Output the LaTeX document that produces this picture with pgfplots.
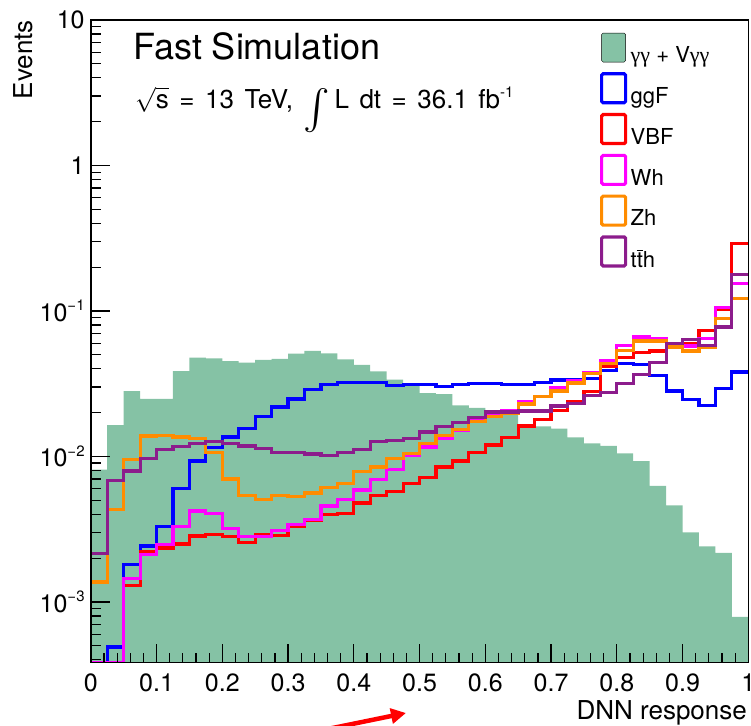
\documentclass[border=0pt]{standalone}
\usepackage{exscale}
\usepackage{fontspec}
\setmainfont{TeX Gyre Heros}
\newfontfamily\gfont{Liberation Serif}
\usepackage{graphicx}
\usepackage{pgfplots}
\usepackage{pgfplotstable}
\pgfplotsset{compat=1.18}
\usetikzlibrary{arrows.meta}
\definecolor{bkg}{RGB}{133,194,165}
\definecolor{mymagenta}{RGB}{255,0,255}
\definecolor{myorange}{RGB}{255,140,0}
\definecolor{mypurple}{RGB}{140,28,140}
\newcommand\sups[1]{\raisebox{10.4pt}{\fontsize{15}{15}\selectfont #1}}

\pgfplotstableread{
x y
0.000 1e-6
0.000 0.0081
0.025 0.0164
0.050 0.0281
0.075 0.0249
0.100 0.0249
0.125 0.0386
0.150 0.0478
0.175 0.0473
0.200 0.0452
0.225 0.0441
0.250 0.0461
0.275 0.0469
0.300 0.0509
0.325 0.0531
0.350 0.0510
0.375 0.0465
0.400 0.0426
0.425 0.0385
0.450 0.0337
0.475 0.0310
0.500 0.0272
0.525 0.0268
0.550 0.0224
0.575 0.0216
0.600 0.0195
0.625 0.0192
0.650 0.0161
0.675 0.0161
0.700 0.0155
0.725 0.0135
0.750 0.0123
0.775 0.0118
0.800 0.0105
0.825 0.0093
0.850 0.00627
0.875 0.00460
0.900 0.00301
0.925 0.00241
0.950 0.00217
0.975 0.00079
1.000 0.00079
1.000 1e-6
}\bkgdata

\pgfplotstableread{
x ggf vbf wh zh tth
0.000 3.82e-4 3.82e-4 3.82e-4 0.00137 0.00214
0.025 4.9e-4  3.82e-4 3.82e-4 0.00431 0.00679
0.050 0.00180 0.00130 0.00145 0.00952 0.00794
0.075 0.00242 0.00220 0.00213 0.0138  0.00962
0.100 0.00330 0.00235 0.00248 0.0140  0.01115
0.125 0.00600 0.00250 0.00330 0.0136  0.01174
0.150 0.00931 0.00284 0.00422 0.0133  0.01225
0.175 0.0115  0.00290 0.00407 0.0107  0.0126
0.200 0.0136  0.00283 0.00320 0.00700 0.0123
0.225 0.0156  0.00255 0.00281 0.00538 0.0118
0.250 0.0189  0.00291 0.00282 0.00505 0.0113
0.275 0.0219  0.00286 0.00308 0.00541 0.0107
0.300 0.0248  0.00330 0.00341 0.00527 0.0106
0.325 0.0290  0.00362 0.00370 0.00561 0.0104
0.350 0.0312  0.00398 0.00456 0.00608 0.0101
0.375 0.0322  0.00407 0.00508 0.00652 0.0106
0.400 0.0321  0.00479 0.00588 0.00791 0.0111
0.425 0.0321  0.00540 0.00690 0.00847 0.0126
0.450 0.0308  0.00575 0.00810 0.00972 0.0129
0.475 0.0314  0.00654 0.0101  0.0105  0.0132
0.500 0.0313  0.00719 0.0116  0.0123  0.0147
0.525 0.0303  0.00847 0.0133  0.0140  0.0160
0.550 0.0313  0.00929 0.0151  0.0153  0.0171
0.575 0.0318  0.0106  0.0177  0.0173  0.0185
0.600 0.0318  0.0120  0.0197  0.0189  0.0202
0.625 0.0312  0.0135  0.0206  0.0197  0.0202
0.650 0.0313  0.0162  0.0239  0.0229  0.0205
0.675 0.0324  0.0180  0.0259  0.0257  0.0205
0.700 0.0335  0.0206  0.0297  0.0282  0.0222
0.725 0.0337  0.0238  0.0332  0.0320  0.0232
0.750 0.0345  0.0278  0.0375  0.0370  0.0263
0.775 0.0390  0.0415  0.0458  0.0435  0.0276
0.800 0.0437  0.0477  0.0580  0.0537  0.0317
0.825 0.0427  0.0516  0.0662  0.0621  0.0367
0.850 0.0358  0.0531  0.0650  0.0621  0.0440
0.875 0.0282  0.0577  0.0587  0.0566  0.0597
0.900 0.0246  0.0597  0.0575  0.0531  0.0636
0.925 0.0223  0.0731  0.0643  0.0560  0.0581
0.950 0.0292  0.1020  0.105   0.0887  0.0776
0.975 0.0380  0.290   0.155   0.1216  0.178
1.000 0.0380  0.290   0.155   0.1216  0.178
}\sigdata

\begin{document}
\begin{tikzpicture}[x=1pt,y=1pt]
\begin{axis}[
  at={(90.8pt,62.3pt)}, anchor=south west,
  scale only axis, width=657.5pt, height=642.7pt,
  xmin=0, xmax=1,
  ymode=log, ymin=3.82e-4, ymax=10,
  axis on top,
  axis line style={line width=1.4pt},
  tick align=inside, xtick pos=left, ytick pos=left,
  xtick={0,0.1,0.2,0.3,0.4,0.5,0.6,0.7,0.8,0.9,1},
  xticklabels={0,0.1,0.2,0.3,0.4,0.5,0.6,0.7,0.8,0.9,1},
  minor x tick num=4,
  ytick={1e-3,1e-2,1e-1,1,10},
  yticklabels={10\sups{−3},10\sups{−2},10\sups{−1},1,10},
  minor ytick={4e-4,5e-4,6e-4,7e-4,8e-4,9e-4,
    2e-3,3e-3,4e-3,5e-3,6e-3,7e-3,8e-3,9e-3,
    2e-2,3e-2,4e-2,5e-2,6e-2,7e-2,8e-2,9e-2,
    0.2,0.3,0.4,0.5,0.6,0.7,0.8,0.9,
    2,3,4,5,6,7,8,9},
  major tick length=19pt, minor tick length=10pt,
  every tick/.style={black, line width=1.2pt},
  tick label style={font=\fontsize{25}{30}\selectfont},
  xticklabel style={anchor=north, inner sep=0pt, yshift=-11pt},
  yticklabel style={anchor=east, inner sep=0pt, xshift=-6pt},
  legend cell align=left,
  legend style={at={(rel axis cs:0.7745,0.9800)}, anchor=north west,
    draw=none, fill=none, inner sep=0pt, outer sep=0pt,
    row sep=8pt, column sep=3.5pt,
    nodes={inner sep=0pt},
    font=\fontsize{22}{26}\selectfont},
  legend image code/.code={\draw[#1, rounded corners=1.5pt] (0pt,-6.6pt) rectangle (24pt,22.4pt);},
]
\addplot[fill=bkg, draw=none, const plot] table[x=x,y=y]{\bkgdata};
\addlegendentry{{\gfont γγ} + V{\gfont γγ}}
\addplot[draw=blue, line width=3.2pt, const plot, mark=none] table[x=x,y=ggf]{\sigdata};
\addlegendentry{ggF}
\addplot[draw=red, line width=3.2pt, const plot, mark=none] table[x=x,y=vbf]{\sigdata};
\addlegendentry{VBF}
\addplot[draw=mymagenta, line width=3.2pt, const plot, mark=none] table[x=x,y=wh]{\sigdata};
\addlegendentry{Wh}
\addplot[draw=myorange, line width=3.2pt, const plot, mark=none] table[x=x,y=zh]{\sigdata};
\addlegendentry{Zh}
\addplot[draw=mypurple, line width=3.2pt, const plot, mark=none] table[x=x,y=tth]{\sigdata};
\addlegendentry{t$\overline{\mbox{t}}$h}
\end{axis}
\node[anchor=base west, inner sep=0pt, font=\fontsize{36}{40}\selectfont] at (133.2pt,665pt) {Fast Simulation};
\node[anchor=base west, inner sep=0pt, font=\fontsize{26}{30}\selectfont] at (135pt,616.7pt)
  {\spaceskip=10.5pt$\sqrt{\mbox{s}}$ = 13 TeV, \raisebox{-12pt}{\scalebox{1.6}{$\int$}}\,L dt = 36.1 fb\sups{-1}};
\node[rotate=90, anchor=south east, inner sep=0pt, font=\fontsize{26}{30}\selectfont] at (33pt,705pt) {Events};
\node[anchor=base east, inner sep=0pt, font=\fontsize{26}{30}\selectfont] at (747pt,6pt) {DNN response};
\draw[red, line width=4.5pt, -{Triangle[length=15pt, width=15pt]}] (318pt,-6pt) -- (406pt,12pt);
\pgfresetboundingbox
\useasboundingbox (0pt,0pt) rectangle (751pt,725pt);
\end{tikzpicture}
\end{document}
